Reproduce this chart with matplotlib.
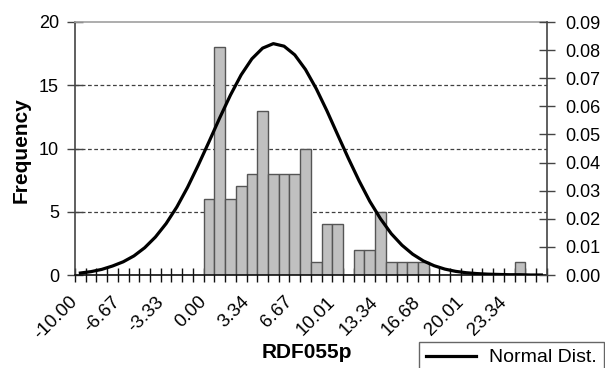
import matplotlib
matplotlib.use('Agg')
import matplotlib.pyplot as plt
from matplotlib.lines import Line2D
from matplotlib.transforms import ScaledTranslation
import numpy as np

plt.rcParams['font.family'] = ['Liberation Sans', 'DejaVu Sans']

# Histogram frequencies per bin (44 bins)
frequency = [0, 0, 0, 0, 0, 0, 0, 0, 0, 0, 0, 0,
             6, 18, 6, 7, 8, 13, 8, 8, 8, 10, 1, 4, 4, 0, 2, 2, 5, 1, 1, 1, 1,
             0, 0, 0, 0, 0, 0, 0, 0, 1, 0, 0]

# Normal distribution curve values (secondary axis), one per bin
normal_dist = [0.0007, 0.0012, 0.0020, 0.0032, 0.0047, 0.0068, 0.0097, 0.0135, 0.0183, 0.0242,
               0.0312, 0.0391, 0.0474, 0.0559, 0.0640, 0.0712, 0.0769, 0.0807, 0.0823, 0.0814,
               0.0783, 0.0731, 0.0663, 0.0584, 0.0499, 0.0415, 0.0335, 0.0262, 0.0200, 0.0147,
               0.0106, 0.0074, 0.0050, 0.0033, 0.0021, 0.0013, 0.0008, 0.0005, 0.0003, 0.0002,
               0.0001, 0.0001, 0.0000, 0.0000]

# Category axis labels (every 4th bin edge)
x_labels = ['-10.00', '-6.67', '-3.33', '0.00', '3.34', '6.67', '10.01',
            '13.34', '16.68', '20.01', '23.34']

left_ticks = [0, 5, 10, 15, 20]
right_ticks = [0.00, 0.01, 0.02, 0.03, 0.04, 0.05, 0.06, 0.07, 0.08, 0.09]

W, H = 605, 368
fig = plt.figure(figsize=(W / 100, H / 100), dpi=100)
ax = fig.add_axes([75 / W, 1 - 275 / H, (546.7 - 75) / W, (275 - 22) / H])

n = len(frequency)
centers = np.arange(n) + 0.5
ax.bar(centers, frequency, width=1.0, color='#c0c0c0', edgecolor='#555555',
       linewidth=1.0, zorder=2)

for yv in [5, 10, 15]:
    ax.axhline(yv, color='#404040', linestyle=(0, (3, 2)), linewidth=0.9, zorder=0.5)

ax.set_xlim(0, n)
ax.set_ylim(0, 20)
ax.set_yticks(left_ticks)
ax.set_yticklabels([str(v) for v in left_ticks])

edges = np.arange(n + 1)
labels = []
for e in edges:
    if e % 4 == 0 and e // 4 < len(x_labels):
        labels.append(x_labels[e // 4])
    else:
        labels.append('')
ax.set_xticks(edges)
ax.set_xticklabels(labels, rotation=45, ha='right', va='center', rotation_mode='anchor',
                   fontsize=13.5)
shift = ScaledTranslation(-0.045, 0.0, fig.dpi_scale_trans)
for lab in ax.get_xticklabels():
    lab.set_transform(lab.get_transform() + shift)
ax.tick_params(axis='x', direction='inout', length=10, width=1.0, color='#111111', pad=12.5)
ax.tick_params(axis='y', direction='inout', length=11, width=1.0, color='#444444',
               labelsize=13, pad=6)

ax.spines['left'].set_color('#444444')
ax.spines['left'].set_linewidth(1.2)
ax.spines['bottom'].set_color('#111111')
ax.spines['bottom'].set_linewidth(1.2)
ax.spines['top'].set_color('#a0a0a0')
ax.spines['top'].set_linewidth(1.2)
ax.spines['right'].set_visible(False)

ax2 = ax.twinx()
ax2.set_ylim(0, 0.09)
ax2.set_yticks(right_ticks)
ax2.set_yticklabels([f'{v:.2f}' for v in right_ticks])
ax2.tick_params(axis='y', direction='inout', length=11, width=1.0, color='#444444',
                labelsize=13, pad=8)
ax2.spines['right'].set_color('#444444')
ax2.spines['right'].set_linewidth(1.2)
for s in ['left', 'top', 'bottom']:
    ax2.spines[s].set_visible(False)
line, = ax2.plot(centers, normal_dist, color='black', linewidth=2.3, zorder=3,
                 solid_joinstyle='round')

fig.text(21 / W, 1 - 150 / H, 'Frequency', rotation=90, fontsize=15, fontweight='bold',
         ha='center', va='center')
fig.text(307 / W, 1 - 352 / H, 'RDF055p', fontsize=15, fontweight='bold',
         ha='center', va='center')

leg = fig.legend(handles=[Line2D([0], [0], color='black', linewidth=2.3)],
                 labels=['Normal Dist.'], loc='upper left',
                 bbox_to_anchor=(419 / W, 1 - 342 / H), frameon=True, fancybox=False,
                 edgecolor='#404040', borderaxespad=0, handlelength=2.6,
                 handletextpad=0.65, borderpad=0.35, fontsize=14)
leg.get_frame().set_linewidth(1.0)

fig.savefig('out.png', dpi=100)
